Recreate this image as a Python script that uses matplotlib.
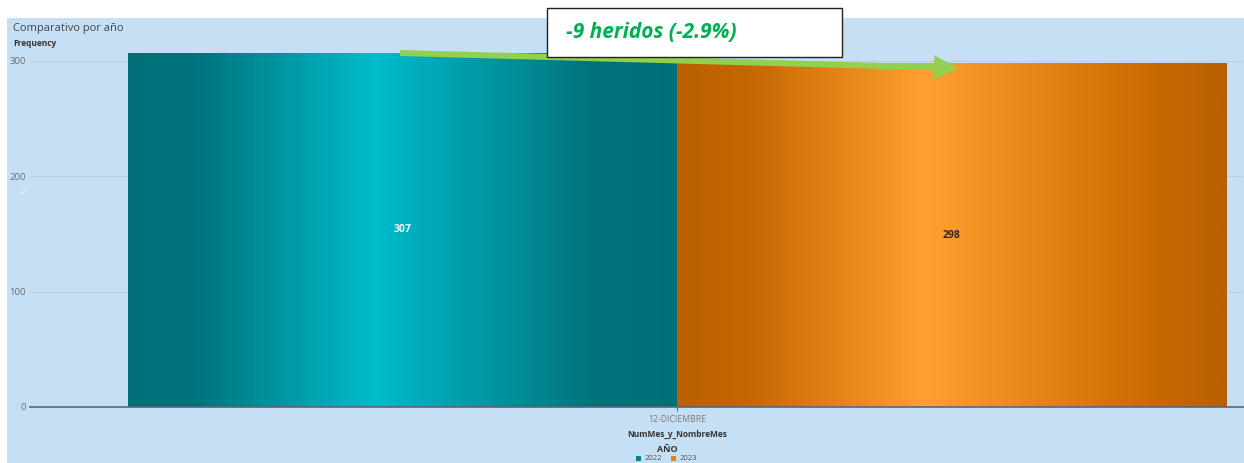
import matplotlib
matplotlib.use("Agg")
import matplotlib.pyplot as plt
import matplotlib.patches as mpatches
import matplotlib.transforms as mtransforms
from matplotlib.colors import LinearSegmentedColormap
import numpy as np

plt.rcParams["font.family"] = ["Open Sans", "DejaVu Sans"]

# data
category = "12-DICIEMBRE"
years = ["2022", "2023"]
values = [307, 298]
yticks = [0, 100, 200, 300]
note = "-9 heridos (-2.9%)"

W, H = 1244, 463
fig = plt.figure(figsize=(W / 100, H / 100), dpi=100)
fig.patch.set_facecolor("white")

# pixel helper (y measured from top)
px = mtransforms.Affine2D().scale(1 / W, -1 / H).translate(0, 1) + fig.transFigure

# light blue panel
fig.patches.append(mpatches.Rectangle((7, 18), W - 7, H - 18, transform=px,
                                      facecolor="#C5DFF5", edgecolor="none", zorder=-5))

ax = fig.add_axes([30 / W, (H - 407) / H, (W - 30) / W, (407 - 18) / H])
ax.set_zorder(1)
ax.set_facecolor("none")

bar_w = 0.4
offsets = [-bar_w / 2, bar_w / 2]
bars = ax.bar(offsets, values, width=bar_w, color="none", edgecolor="none", zorder=2)

grad_colors = [
    [(0, "#006F78"), (0.12, "#00737C"), (0.45, "#00BCCB"), (0.85, "#00737B"), (1, "#006E77")],
    [(0, "#BA6000"), (0.12, "#C46600"), (0.45, "#FFA030"), (0.87, "#C86A00"), (1, "#B86000")],
]
grad = np.linspace(0, 1, 400).reshape(1, -1)
for b, stops in zip(bars, grad_colors):
    cmap = LinearSegmentedColormap.from_list("g", stops)
    x0, w, h = b.get_x(), b.get_width(), b.get_height()
    im = ax.imshow(grad, cmap=cmap, aspect="auto", extent=(x0, x0 + w, 0, h),
                   zorder=2, interpolation="bilinear")
    im.set_clip_path(b)

ax.set_xlim(-0.4714, 0.4131)
ax.set_ylim(0, 337)

# value labels
label_colors = ["#F2F6F7", "#2B2B2B"]
for b, v, c in zip(bars, values, label_colors):
    ax.text(b.get_x() + b.get_width() / 2, v / 2, str(v), ha="center", va="center",
            fontsize=7.5, fontweight="bold", color=c, zorder=4)

# axes styling
for s in ["top", "right", "left"]:
    ax.spines[s].set_visible(False)
ax.spines["bottom"].set_color("#5A6670")
ax.spines["bottom"].set_linewidth(1.2)
ax.spines["bottom"].set_zorder(5)
ax.set_yticks(yticks)
ax.tick_params(axis="y", length=0, labelsize=6.8, labelcolor="#6E6E6E", pad=3)
ax.set_xticks([0])
ax.set_xticklabels([category])
ax.tick_params(axis="x", length=3, color="#6E6E6E", labelsize=6.2, labelcolor="#7A7A7A", pad=3)
ax.grid(axis="y", color="#A9B7C4", linestyle=(0, (1, 1)), linewidth=0.6, zorder=1)
ax.set_axisbelow(True)

# texts
fig.text(13, 28, "Comparativo por año", transform=px, fontsize=8, color="#444444", va="center")
fig.text(13, 44, "Frequency", transform=px, fontsize=6, fontweight="bold", color="#333333", va="center")
fig.text(20, 192, "\u2713", transform=px, fontsize=6, color="white", va="center",
         family=["DejaVu Sans"])
fig.text(677, 434, "NumMes_y_NombreMes", transform=px, fontsize=6, fontweight="bold",
         color="#333333", ha="center", va="center")
fig.text(667, 449, "AÑO", transform=px, fontsize=6.5, fontweight="bold",
         color="#333333", ha="center", va="center")

# legend (sits at the very bottom edge)
leg_cols = ["#00838F", "#E9820F"]
for i, (yr, c) in enumerate(zip(years, leg_cols)):
    x = 636 + i * 35
    fig.patches.append(mpatches.Rectangle((x, 456), 5, 5, transform=px,
                                          facecolor=c, edgecolor="none", zorder=3))
    fig.text(x + 9, 458.5, yr, transform=px, fontsize=5.5, color="#555555", va="center")

# green arrow (under the box)
arr = mpatches.FancyArrow(400, 53, 558, 15, width=6, head_width=24, head_length=24,
                          length_includes_head=True, transform=px,
                          facecolor="#92D050", edgecolor="none", zorder=6)
fig.patches.append(arr)

# annotation box
fig.patches.append(mpatches.Rectangle((547, 8), 295, 49, transform=px, facecolor="white",
                                      edgecolor="#222222", linewidth=1, zorder=7))
fig.text(566, 33, note, transform=px, fontsize=15, fontweight="bold", style="italic",
         color="#00B050", va="center", zorder=8)

fig.savefig("out.png", dpi=100)
